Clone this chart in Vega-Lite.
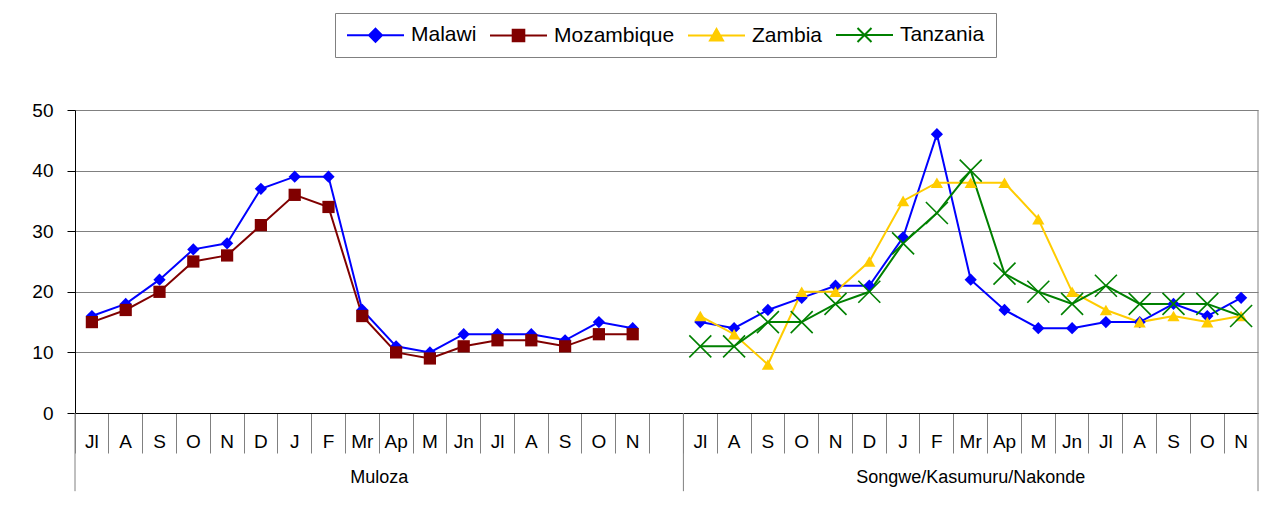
{
  "$schema": "https://vega.github.io/schema/vega-lite/v6.json",
  "autosize": {"type": "none"},
  "width": 1183,
  "height": 303,
  "padding": {"left": 75, "top": 110, "right": 10, "bottom": 101},
  "config": {
    "view": {"stroke": null},
    "font": "Liberation Sans",
    "axis": {"labelFont": "Liberation Sans", "labelColor": "#000000", "title": null}
  },
  "datasets": {
    "regions": [
      {"region": "Muloza", "first": "01 Jl", "last": "18"},
      {"region": "Songwe/Kasumuru/Nakonde", "first": "19 Jl", "last": "35 N"}
    ],
    "series": [
    {"region":"Muloza","period":"01 Jl","country":"Malawi","value":16},
    {"region":"Muloza","period":"02 A","country":"Malawi","value":18},
    {"region":"Muloza","period":"03 S","country":"Malawi","value":22},
    {"region":"Muloza","period":"04 O","country":"Malawi","value":27},
    {"region":"Muloza","period":"05 N","country":"Malawi","value":28},
    {"region":"Muloza","period":"06 D","country":"Malawi","value":37},
    {"region":"Muloza","period":"07 J","country":"Malawi","value":39},
    {"region":"Muloza","period":"08 F","country":"Malawi","value":39},
    {"region":"Muloza","period":"09 Mr","country":"Malawi","value":17},
    {"region":"Muloza","period":"10 Ap","country":"Malawi","value":11},
    {"region":"Muloza","period":"11 M","country":"Malawi","value":10},
    {"region":"Muloza","period":"12 Jn","country":"Malawi","value":13},
    {"region":"Muloza","period":"13 Jl","country":"Malawi","value":13},
    {"region":"Muloza","period":"14 A","country":"Malawi","value":13},
    {"region":"Muloza","period":"15 S","country":"Malawi","value":12},
    {"region":"Muloza","period":"16 O","country":"Malawi","value":15},
    {"region":"Muloza","period":"17 N","country":"Malawi","value":14},
    {"region":"Muloza","period":"01 Jl","country":"Mozambique","value":15},
    {"region":"Muloza","period":"02 A","country":"Mozambique","value":17},
    {"region":"Muloza","period":"03 S","country":"Mozambique","value":20},
    {"region":"Muloza","period":"04 O","country":"Mozambique","value":25},
    {"region":"Muloza","period":"05 N","country":"Mozambique","value":26},
    {"region":"Muloza","period":"06 D","country":"Mozambique","value":31},
    {"region":"Muloza","period":"07 J","country":"Mozambique","value":36},
    {"region":"Muloza","period":"08 F","country":"Mozambique","value":34},
    {"region":"Muloza","period":"09 Mr","country":"Mozambique","value":16},
    {"region":"Muloza","period":"10 Ap","country":"Mozambique","value":10},
    {"region":"Muloza","period":"11 M","country":"Mozambique","value":9},
    {"region":"Muloza","period":"12 Jn","country":"Mozambique","value":11},
    {"region":"Muloza","period":"13 Jl","country":"Mozambique","value":12},
    {"region":"Muloza","period":"14 A","country":"Mozambique","value":12},
    {"region":"Muloza","period":"15 S","country":"Mozambique","value":11},
    {"region":"Muloza","period":"16 O","country":"Mozambique","value":13},
    {"region":"Muloza","period":"17 N","country":"Mozambique","value":13},
    {"region":"Songwe/Kasumuru/Nakonde","period":"19 Jl","country":"Malawi","value":15},
    {"region":"Songwe/Kasumuru/Nakonde","period":"20 A","country":"Malawi","value":14},
    {"region":"Songwe/Kasumuru/Nakonde","period":"21 S","country":"Malawi","value":17},
    {"region":"Songwe/Kasumuru/Nakonde","period":"22 O","country":"Malawi","value":19},
    {"region":"Songwe/Kasumuru/Nakonde","period":"23 N","country":"Malawi","value":21},
    {"region":"Songwe/Kasumuru/Nakonde","period":"24 D","country":"Malawi","value":21},
    {"region":"Songwe/Kasumuru/Nakonde","period":"25 J","country":"Malawi","value":29},
    {"region":"Songwe/Kasumuru/Nakonde","period":"26 F","country":"Malawi","value":46},
    {"region":"Songwe/Kasumuru/Nakonde","period":"27 Mr","country":"Malawi","value":22},
    {"region":"Songwe/Kasumuru/Nakonde","period":"28 Ap","country":"Malawi","value":17},
    {"region":"Songwe/Kasumuru/Nakonde","period":"29 M","country":"Malawi","value":14},
    {"region":"Songwe/Kasumuru/Nakonde","period":"30 Jn","country":"Malawi","value":14},
    {"region":"Songwe/Kasumuru/Nakonde","period":"31 Jl","country":"Malawi","value":15},
    {"region":"Songwe/Kasumuru/Nakonde","period":"32 A","country":"Malawi","value":15},
    {"region":"Songwe/Kasumuru/Nakonde","period":"33 S","country":"Malawi","value":18},
    {"region":"Songwe/Kasumuru/Nakonde","period":"34 O","country":"Malawi","value":16},
    {"region":"Songwe/Kasumuru/Nakonde","period":"35 N","country":"Malawi","value":19},
    {"region":"Songwe/Kasumuru/Nakonde","period":"19 Jl","country":"Zambia","value":16},
    {"region":"Songwe/Kasumuru/Nakonde","period":"20 A","country":"Zambia","value":13},
    {"region":"Songwe/Kasumuru/Nakonde","period":"21 S","country":"Zambia","value":8},
    {"region":"Songwe/Kasumuru/Nakonde","period":"22 O","country":"Zambia","value":20},
    {"region":"Songwe/Kasumuru/Nakonde","period":"23 N","country":"Zambia","value":20},
    {"region":"Songwe/Kasumuru/Nakonde","period":"24 D","country":"Zambia","value":25},
    {"region":"Songwe/Kasumuru/Nakonde","period":"25 J","country":"Zambia","value":35},
    {"region":"Songwe/Kasumuru/Nakonde","period":"26 F","country":"Zambia","value":38},
    {"region":"Songwe/Kasumuru/Nakonde","period":"27 Mr","country":"Zambia","value":38},
    {"region":"Songwe/Kasumuru/Nakonde","period":"28 Ap","country":"Zambia","value":38},
    {"region":"Songwe/Kasumuru/Nakonde","period":"29 M","country":"Zambia","value":32},
    {"region":"Songwe/Kasumuru/Nakonde","period":"30 Jn","country":"Zambia","value":20},
    {"region":"Songwe/Kasumuru/Nakonde","period":"31 Jl","country":"Zambia","value":17},
    {"region":"Songwe/Kasumuru/Nakonde","period":"32 A","country":"Zambia","value":15},
    {"region":"Songwe/Kasumuru/Nakonde","period":"33 S","country":"Zambia","value":16},
    {"region":"Songwe/Kasumuru/Nakonde","period":"34 O","country":"Zambia","value":15},
    {"region":"Songwe/Kasumuru/Nakonde","period":"35 N","country":"Zambia","value":16},
    {"region":"Songwe/Kasumuru/Nakonde","period":"19 Jl","country":"Tanzania","value":11},
    {"region":"Songwe/Kasumuru/Nakonde","period":"20 A","country":"Tanzania","value":11},
    {"region":"Songwe/Kasumuru/Nakonde","period":"21 S","country":"Tanzania","value":15},
    {"region":"Songwe/Kasumuru/Nakonde","period":"22 O","country":"Tanzania","value":15},
    {"region":"Songwe/Kasumuru/Nakonde","period":"23 N","country":"Tanzania","value":18},
    {"region":"Songwe/Kasumuru/Nakonde","period":"24 D","country":"Tanzania","value":20},
    {"region":"Songwe/Kasumuru/Nakonde","period":"25 J","country":"Tanzania","value":28},
    {"region":"Songwe/Kasumuru/Nakonde","period":"26 F","country":"Tanzania","value":33},
    {"region":"Songwe/Kasumuru/Nakonde","period":"27 Mr","country":"Tanzania","value":40},
    {"region":"Songwe/Kasumuru/Nakonde","period":"28 Ap","country":"Tanzania","value":23},
    {"region":"Songwe/Kasumuru/Nakonde","period":"29 M","country":"Tanzania","value":20},
    {"region":"Songwe/Kasumuru/Nakonde","period":"30 Jn","country":"Tanzania","value":18},
    {"region":"Songwe/Kasumuru/Nakonde","period":"31 Jl","country":"Tanzania","value":21},
    {"region":"Songwe/Kasumuru/Nakonde","period":"32 A","country":"Tanzania","value":18},
    {"region":"Songwe/Kasumuru/Nakonde","period":"33 S","country":"Tanzania","value":18},
    {"region":"Songwe/Kasumuru/Nakonde","period":"34 O","country":"Tanzania","value":18},
    {"region":"Songwe/Kasumuru/Nakonde","period":"35 N","country":"Tanzania","value":16}
    ]
  },
  "layer": [
    {
      "data": {"name": "series"},
      "encoding": {
        "x": {"field": "period", "type": "nominal",
          "scale": {"type": "band", "paddingInner": 0, "paddingOuter": 0,
            "domain": ["01 Jl","02 A","03 S","04 O","05 N","06 D","07 J","08 F","09 Mr","10 Ap","11 M","12 Jn","13 Jl","14 A","15 S","16 O","17 N","18","19 Jl","20 A","21 S","22 O","23 N","24 D","25 J","26 F","27 Mr","28 Ap","29 M","30 Jn","31 Jl","32 A","33 S","34 O","35 N"]},
          "axis": {"orient": "bottom", "bandPosition": 0, "tickSize": 40, "tickColor": "#808080", "domainColor": "#000000", "labelAngle": 0, "labelAlign": "center", "labelDx": 16.9, "labelPadding": -12, "labelBaseline": "middle", "labelFontSize": 19, "labelExpr": "slice(datum.value, 3)", "grid": false}},
        "y": {"field": "value", "type": "quantitative",
          "scale": {"domain": [0, 50]},
          "axis": {"values": [0,10,20,30,40,50], "grid": true, "gridColor": "#808080", "domainColor": "#000000", "tickColor": "#000000", "tickSize": 8, "labelPadding": 14, "labelFontSize": 19}},
        "color": {"field": "country", "type": "nominal",
          "scale": {"domain": ["Malawi","Mozambique","Zambia","Tanzania"], "range": ["#0000FF","#800000","#FFCC00","#008000"]},
          "legend": {"orient": "none", "legendX": 260, "legendY": -97, "direction": "horizontal", "columns": 4, "title": null,
            "symbolSize": 400, "labelFontSize": 21, "labelOffset": 43, "columnPadding": 9, "padding": 11,
            "strokeColor": "#808080", "fillColor": "#ffffff", "labelColor": "#000000",
            "encode": {"symbols": {"update": {
              "shape": {"signal": "datum.value === 'Malawi' ? 'M-1,0H4.7M1.85,-0.65L2.5,0L1.85,0.65L1.2,0Z' : datum.value === 'Mozambique' ? 'M-1,0H4.7M1.27,-0.58H2.43V0.58H1.27Z' : datum.value === 'Zambia' ? 'M-1,0H4.7M1.85,-0.65L2.5,0.5L1.2,0.5Z' : 'M-1,0H4.7M1.15,-0.7L2.55,0.7M1.15,0.7L2.55,-0.7'"},
              "fill": {"scale": "color", "field": "value"},
              "stroke": {"scale": "color", "field": "value"},
              "strokeWidth": {"value": 2},
              "opacity": {"value": 1}
            }}}}},
        "detail": {"field": "region"}
      },
      "layer": [
        {"mark": {"type": "line", "strokeWidth": 2}},
        {"transform": [{"filter": "datum.country !== 'Tanzania'"}],
         "mark": {"type": "point", "filled": true, "opacity": 1, "size": 150},
         "encoding": {"shape": {"field": "country", "type": "nominal", "scale": {"domain": ["Malawi","Mozambique","Zambia"], "range": ["diamond","square","triangle-up"]}, "legend": null}}},
        {"transform": [{"filter": "datum.country === 'Tanzania'"}],
         "mark": {"type": "point", "filled": false, "opacity": 1, "size": 484, "strokeWidth": 1.6, "shape": "M-1,-1L1,1M-1,1L1,-1"}}
      ]
    },
    {
      "data": {"name": "regions"},
      "mark": {"type": "rule", "color": "#808080", "strokeWidth": 1},
      "encoding": {
        "x": {"field": "first", "type": "nominal", "bandPosition": 0},
        "y": {"datum": 0},
        "y2": {"datum": -12.9}
      }
    },
    {
      "data": {"name": "regions"},
      "transform": [{"filter": "datum.region !== 'Muloza'"}],
      "mark": {"type": "rule", "color": "#808080", "strokeWidth": 1},
      "encoding": {
        "x": {"field": "last", "type": "nominal", "bandPosition": 1},
        "y": {"datum": 50},
        "y2": {"datum": -12.9}
      }
    },
    {
      "data": {"name": "regions"},
      "transform": [{"filter": "datum.region === 'Muloza'"}],
      "mark": {"type": "text", "fontSize": 18, "baseline": "middle", "align": "center", "color": "#000000"},
      "encoding": {
        "x": {"datum": "09 Mr", "bandPosition": 1},
        "y": {"datum": -10.8},
        "text": {"field": "region"}
      }
    },
    {
      "data": {"name": "regions"},
      "transform": [{"filter": "datum.region !== 'Muloza'"}],
      "mark": {"type": "text", "fontSize": 18, "baseline": "middle", "align": "center", "color": "#000000"},
      "encoding": {
        "x": {"datum": "27 Mr", "bandPosition": 0.5},
        "y": {"datum": -10.8},
        "text": {"field": "region"}
      }
    }
  ]
}
